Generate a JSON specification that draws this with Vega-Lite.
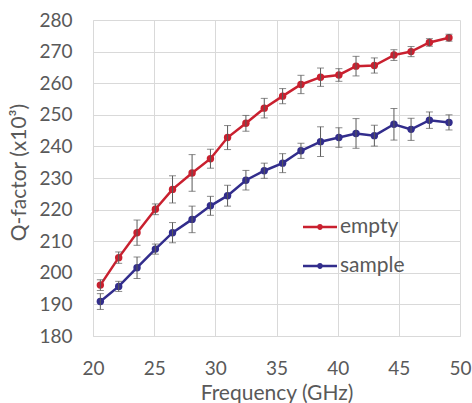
{
  "$schema": "https://vega.github.io/schema/vega-lite/v6.json",
  "width": 367,
  "height": 316,
  "autosize": "none",
  "padding": {"left": 93, "top": 20, "right": 12, "bottom": 67},
  "background": "white",
  "config": {
    "view": {"stroke": null},
    "font": "Lato",
    "axis": {
      "gridColor": "#d9d9d9",
      "domainColor": "#d9d9d9",
      "ticks": false,
      "tickSize": 0,
      "labelColor": "#595959",
      "titleColor": "#595959",
      "labelFont": "Lato",
      "titleFont": "Lato",
      "labelFontSize": 19,
      "titleFontSize": 21,
      "titleFontWeight": "normal"
    }
  },
  "data": {
    "values": [
      {"f": 20.6, "q": 196.1, "e": 1.7, "s": "empty"},
      {"f": 22.1, "q": 204.8, "e": 1.8, "s": "empty"},
      {"f": 23.6, "q": 212.7, "e": 4.0, "s": "empty"},
      {"f": 25.1, "q": 220.1, "e": 1.7, "s": "empty"},
      {"f": 26.5, "q": 226.4, "e": 4.3, "s": "empty"},
      {"f": 28.1, "q": 231.6, "e": 5.8, "s": "empty"},
      {"f": 29.6, "q": 236.1, "e": 3.0, "s": "empty"},
      {"f": 31.0, "q": 242.8, "e": 3.8, "s": "empty"},
      {"f": 32.5, "q": 247.3, "e": 2.5, "s": "empty"},
      {"f": 34.0, "q": 252.1, "e": 3.1, "s": "empty"},
      {"f": 35.5, "q": 255.9, "e": 2.4, "s": "empty"},
      {"f": 37.0, "q": 259.6, "e": 2.9, "s": "empty"},
      {"f": 38.6, "q": 261.9, "e": 2.9, "s": "empty"},
      {"f": 40.1, "q": 262.6, "e": 2.0, "s": "empty"},
      {"f": 41.5, "q": 265.4, "e": 3.1, "s": "empty"},
      {"f": 43.0, "q": 265.6, "e": 2.4, "s": "empty"},
      {"f": 44.6, "q": 268.9, "e": 1.7, "s": "empty"},
      {"f": 46.0, "q": 270.0, "e": 1.6, "s": "empty"},
      {"f": 47.5, "q": 272.9, "e": 1.2, "s": "empty"},
      {"f": 49.1, "q": 274.4, "e": 1.1, "s": "empty"},
      {"f": 20.6, "q": 190.9, "e": 2.5, "s": "sample"},
      {"f": 22.1, "q": 195.7, "e": 1.6, "s": "sample"},
      {"f": 23.6, "q": 201.6, "e": 3.4, "s": "sample"},
      {"f": 25.1, "q": 207.5, "e": 1.6, "s": "sample"},
      {"f": 26.5, "q": 212.7, "e": 3.2, "s": "sample"},
      {"f": 28.1, "q": 216.9, "e": 4.2, "s": "sample"},
      {"f": 29.6, "q": 221.2, "e": 3.0, "s": "sample"},
      {"f": 31.0, "q": 224.4, "e": 3.3, "s": "sample"},
      {"f": 32.5, "q": 229.3, "e": 3.1, "s": "sample"},
      {"f": 34.0, "q": 232.3, "e": 2.4, "s": "sample"},
      {"f": 35.5, "q": 234.7, "e": 3.0, "s": "sample"},
      {"f": 37.0, "q": 238.6, "e": 2.4, "s": "sample"},
      {"f": 38.6, "q": 241.5, "e": 4.7, "s": "sample"},
      {"f": 40.1, "q": 242.8, "e": 3.1, "s": "sample"},
      {"f": 41.5, "q": 244.1, "e": 4.7, "s": "sample"},
      {"f": 43.0, "q": 243.4, "e": 3.3, "s": "sample"},
      {"f": 44.6, "q": 247.0, "e": 5.0, "s": "sample"},
      {"f": 46.0, "q": 245.4, "e": 3.5, "s": "sample"},
      {"f": 47.5, "q": 248.3, "e": 2.6, "s": "sample"},
      {"f": 49.1, "q": 247.6, "e": 2.4, "s": "sample"}
    ]
  },
  "encoding": {
    "x": {
      "field": "f", "type": "quantitative",
      "scale": {"domain": [20, 50], "nice": false},
      "axis": {
        "values": [20, 25, 30, 35, 40, 45, 50],
        "title": "Frequency (GHz)",
        "labelBaseline": "alphabetic",
        "labelPadding": 38,
        "titleBaseline": "alphabetic",
        "titleY": 63,
        "labelFlush": false
      }
    },
    "y": {
      "field": "q", "type": "quantitative",
      "scale": {"domain": [180, 280], "nice": false, "zero": false},
      "axis": {
        "values": [180, 190, 200, 210, 220, 230, 240, 250, 260, 270, 280],
        "title": "Q-factor (x10³)",
        "labelPadding": 21,
        "titleBaseline": "alphabetic",
        "titleAngle": -90,
        "titleAlign": "center",
        "titleX": -68,
        "titleY": 152
      }
    }
  },
  "layer": [
    {
      "mark": {"type": "line", "strokeWidth": 2.5},
      "encoding": {
        "color": {
          "field": "s", "type": "nominal",
          "scale": {"domain": ["empty", "sample"], "range": ["#C9202F", "#322D8C"]},
          "legend": {
            "title": null,
            "orient": "none",
            "legendX": 210,
            "legendY": 190,
            "padding": 0,
            "symbolType": "M-1,-0.07H1V0.07H-1Z M-0.17,0A0.17,0.17 0 1,1 0.17,0A0.17,0.17 0 1,1 -0.17,0Z",
            "symbolSize": 1156,
            "symbolStrokeWidth": 0,
            "labelFontSize": 21,
            "labelColor": "#595959",
            "labelFont": "Lato",
            "labelOffset": 3,
            "rowPadding": 12
          }
        }
      }
    },
    {
      "mark": {"type": "point", "filled": true, "shape": "circle", "size": 55, "opacity": 1},
      "encoding": {
        "color": {"field": "s", "type": "nominal"}
      }
    },
    {
      "mark": {
        "type": "errorbar",
        "ticks": {"size": 7, "color": "#595959", "strokeWidth": 1},
        "rule": {"color": "#595959", "strokeWidth": 1}
      },
      "encoding": {
        "yError": {"field": "e"}
      }
    }
  ]
}
